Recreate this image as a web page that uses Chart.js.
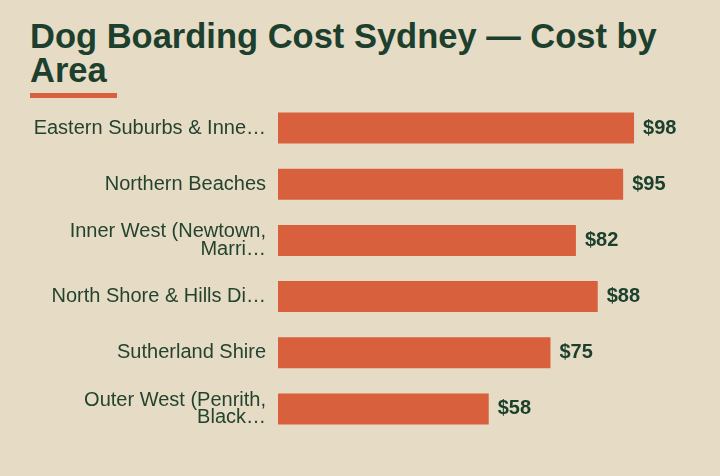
<!DOCTYPE html>
<html>
<head>
<meta charset="utf-8">
<script src="https://cdn.jsdelivr.net/npm/chart.js@4.4.1/dist/chart.umd.min.js"></script>
<style>
  html, body { margin: 0; padding: 0; }
  body {
    width: 720px; height: 476px; overflow: hidden;
    background: #e6dcc5;
    font-family: "Liberation Sans", Arial, sans-serif;
    position: relative;
  }
  h1 {
    position: absolute; left: 30px; top: 20px; width: 660px;
    margin: 0; font-size: 34.5px; line-height: 33.5px; font-weight: bold;
    color: #1c402d;
  }
  .rule {
    position: absolute; left: 30px; top: 93px; width: 87px; height: 5px;
    background: #d9603d;
  }
  .wrap { position: absolute; left: 30px; top: 100px; width: 660px; height: 337px; }
</style>
</head>
<body>
<h1>Dog Boarding Cost Sydney — Cost by Area</h1>
<div class="rule"></div>
<div class="wrap"><canvas id="myChart"></canvas></div>
<script>
const areas = [
  "Eastern Suburbs & Inne…",
  "Northern Beaches",
  ["Inner West (Newtown,", "Marri…"],
  "North Shore & Hills Di…",
  "Sutherland Shire",
  ["Outer West (Penrith,", "Black…"]
];
const costs = [98, 95, 82, 88, 75, 58];

const green = '#1c402d';
const orange = '#d9603d';

// $ labels at the end of each bar
const valueLabels = {
  id: 'valueLabels',
  afterDatasetsDraw(chart) {
    const ctx = chart.ctx;
    const meta = chart.getDatasetMeta(0);
    ctx.save();
    ctx.font = 'bold 20px "Liberation Sans", Arial, sans-serif';
    ctx.fillStyle = green;
    ctx.textAlign = 'left';
    ctx.textBaseline = 'middle';
    meta.data.forEach((bar, i) => {
      ctx.fillText('$' + costs[i], bar.x + 9, bar.y);
    });
    ctx.restore();
  }
};

const ctx = document.getElementById("myChart").getContext('2d');
const myChart = new Chart(ctx, {
  type: 'bar',
  data: {
    labels: areas,
    datasets: [{
      data: costs,
      backgroundColor: orange,
      borderWidth: 0,
      categoryPercentage: 0.8,
      barPercentage: 0.69
    }]
  },
  options: {
    indexAxis: 'y',
    responsive: true,
    maintainAspectRatio: false,
    animation: false,
    layout: { padding: 0 },
    plugins: {
      legend: { display: false },
      tooltip: { enabled: false }
    },
    scales: {
      x: {
        display: false,
        min: 0,
        max: 113.4
      },
      y: {
        afterFit(scale) {
          scale.width = 248;
          scale.paddingTop = 0;
          scale.paddingBottom = 0;
        },
        grid: { display: false, drawTicks: false },
        border: { display: false },
        ticks: {
          padding: 12,
          color: '#24432f',
          font: { family: '"Liberation Sans", Arial, sans-serif', size: 20, lineHeight: 0.88 }
        }
      }
    }
  },
  plugins: [valueLabels]
});
</script>
</body>
</html>
